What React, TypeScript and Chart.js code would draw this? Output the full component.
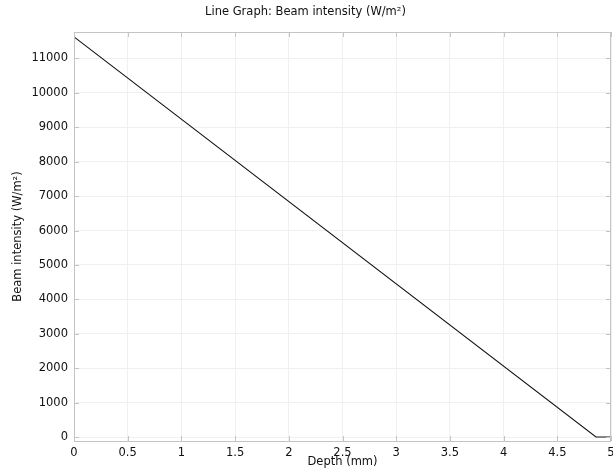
import React, { useEffect, useRef } from "react";
import { Chart, registerables } from "chart.js";

Chart.register(...registerables);

const depthMm = [0, 4.86, 5];
const intensity = [11630, 0, 0];
const xTicks = [0, 0.5, 1, 1.5, 2, 2.5, 3, 3.5, 4, 4.5, 5];
const yTicks = [0, 1000, 2000, 3000, 4000, 5000, 6000, 7000, 8000, 9000, 10000, 11000];

const FONT = "'DejaVu Sans', sans-serif";

const frame = {
  id: "frame",
  afterDatasetsDraw(chart: any) {
    const { ctx, chartArea: a, scales } = chart;
    ctx.save();
    ctx.strokeStyle = "#c4c4c4";
    ctx.lineWidth = 1;
    ctx.beginPath();
    for (const v of xTicks) {
      const p = Math.round(scales.x.getPixelForValue(v)) + 0.5;
      ctx.moveTo(p, a.bottom);
      ctx.lineTo(p, a.bottom - 5);
      ctx.moveTo(p, a.top);
      ctx.lineTo(p, a.top + 5);
    }
    for (const v of yTicks) {
      const p = Math.round(scales.y.getPixelForValue(v)) + 0.5;
      ctx.moveTo(a.left, p);
      ctx.lineTo(a.left + 5, p);
      ctx.moveTo(a.right, p);
      ctx.lineTo(a.right - 5, p);
    }
    ctx.stroke();
    ctx.strokeRect(Math.round(a.left) + 0.5, Math.round(a.top) + 0.5, Math.round(a.right - a.left) - 1, Math.round(a.bottom - a.top));
    ctx.restore();
  },
};

export default function App() {
  const ref = useRef<HTMLCanvasElement>(null);
  useEffect(() => {
    if (!ref.current) return;
    const chart = new Chart(ref.current, {
      type: "scatter",
      data: {
        datasets: [
          {
            data: depthMm.map((x, i) => ({ x, y: intensity[i] })),
            showLine: true,
            borderColor: "#111",
            borderWidth: 1.1,
            pointRadius: 0,
            fill: false,
          },
        ],
      },
      options: {
        responsive: false,
        animation: false,
        devicePixelRatio: 1,
        layout: { padding: { left: 0, right: 2, top: 0, bottom: 0 }, autoPadding: false },
        plugins: {
          legend: { display: false },
          tooltip: { enabled: false },
          title: {
            display: true,
            text: "Line Graph: Beam intensity (W/m²)",
            color: "#111",
            font: { family: FONT, size: 11.5, weight: "normal" },
            padding: { top: 5, bottom: 13.2 },
          },
        },
        scales: {
          x: {
            type: "linear",
            min: 0,
            max: 5,
            afterBuildTicks: (s: any) => {
              s.ticks = xTicks.map((v) => ({ value: v }));
            },
            afterFit: (s: any) => {
              s.height = 28;
              s.paddingLeft = 0;
              s.paddingRight = 0;
            },
            ticks: {
              color: "#111",
              font: { family: FONT, size: 11.5 },
              padding: 5,
              maxRotation: 0,
              autoSkip: false,
              callback: (v: any) => String(v),
            },
            grid: { color: "#f0f0f0", drawTicks: false, tickLength: 0 },
            border: { display: false },
            title: {
              display: true,
              text: "Depth (mm)",
              color: "#111",
              font: { family: FONT, size: 11.5 },
              padding: { top: 0, bottom: 0 },
            },
          },
          y: {
            type: "linear",
            min: -116,
            max: 11770,
            afterBuildTicks: (s: any) => {
              s.ticks = yTicks.map((v) => ({ value: v }));
            },
            afterFit: (s: any) => {
              s.width = 74;
              s.paddingTop = 0;
              s.paddingBottom = 0;
            },
            ticks: {
              color: "#111",
              font: { family: FONT, size: 11.5 },
              padding: 6,
              autoSkip: false,
              callback: (v: any) => String(v),
            },
            grid: { color: "#f0f0f0", drawTicks: false, tickLength: 0 },
            border: { display: false },
            title: {
              display: true,
              text: "Beam intensity (W/m²)",
              color: "#111",
              font: { family: FONT, size: 11.5 },
              padding: { top: 11, bottom: 0 },
            },
          },
        },
      },
      plugins: [frame],
    });
    return () => chart.destroy();
  }, []);
  return (
    <div style={{ position: "fixed", left: 0, top: 0, width: 613, height: 469, background: "#fff" }}>
      <canvas ref={ref} width={613} height={469} />
    </div>
  );
}
